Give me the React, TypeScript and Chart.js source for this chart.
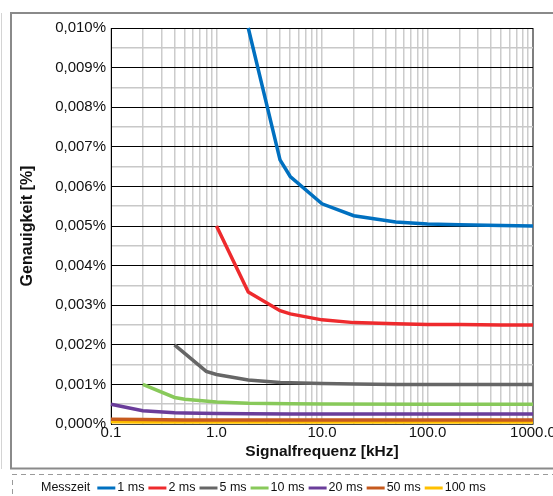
import { useEffect, useRef } from 'react';
import { Chart, registerables } from 'chart.js';

Chart.register(...registerables);

const FONT = "Arial, 'Liberation Sans', sans-serif";

// ---- data (accuracy in %, frequency in kHz) ----
const legendTitle = 'Messzeit';
const seriesLabels = ['1 ms', '2 ms', '5 ms', '10 ms', '20 ms', '50 ms', '100 ms'];
const seriesColors = ['#0070C0', '#EE2A2D', '#666666', '#88C95A', '#6A3D9A', '#C65A1E', '#FFC000'];

const freq1ms = [2, 4, 5, 10, 20, 50, 100, 200, 500, 1000];
const acc1ms = [0.0100, 0.00667, 0.00625, 0.00556, 0.00526, 0.0051, 0.00505, 0.00503, 0.00501, 0.005];

const freq2ms = [1, 2, 4, 5, 10, 20, 50, 100, 200, 500, 1000];
const acc2ms = [0.005, 0.00333, 0.00286, 0.00278, 0.00263, 0.00256, 0.00253, 0.00251, 0.00251, 0.0025, 0.0025];

const freq5ms = [0.4, 0.8, 1, 2, 4, 5, 10, 20, 50, 100, 1000];
const acc5ms = [0.002, 0.00133, 0.00125, 0.00111, 0.00105, 0.00104, 0.00102, 0.00101, 0.001, 0.001, 0.001];

const freq10ms = [0.2, 0.4, 0.5, 1, 2, 5, 10, 100, 1000];
const acc10ms = [0.001, 0.00067, 0.000625, 0.000556, 0.000526, 0.00051, 0.000505, 0.0005, 0.0005];

const freq20ms = [0.1, 0.2, 0.4, 0.5, 1, 2, 5, 10, 100, 1000];
const acc20ms = [0.0005, 0.000333, 0.000286, 0.000278, 0.000263, 0.000256, 0.000252, 0.000251, 0.00025, 0.00025];

const freq50ms = [0.1, 0.2, 0.5, 1, 10, 1000];
const acc50ms = [0.00012, 0.000111, 0.000104, 0.000102, 0.0001, 0.0001];

const freq100ms = [0.1, 0.2, 1, 1000];
const acc100ms = [0.000056, 0.000053, 0.00005, 0.00005];

const seriesFreqs = [freq1ms, freq2ms, freq5ms, freq10ms, freq20ms, freq50ms, freq100ms];
const seriesAccs = [acc1ms, acc2ms, acc5ms, acc10ms, acc20ms, acc50ms, acc100ms];

// ---- axis ticks ----
const xDecades = [0.1, 1, 10, 100, 1000];
const xMinorMultipliers = [2, 3, 4, 5, 6, 7, 8, 9];
const yMin = 0;
const yMax = 0.01;
const yStep = 0.0005;

const isDecade = (v: number) => Math.abs(Math.log10(v) - Math.round(Math.log10(v))) < 1e-6;

const xGridValues: number[] = [];
xDecades.forEach((d, i) => {
  xGridValues.push(d);
  if (i < xDecades.length - 1) xMinorMultipliers.forEach((m) => xGridValues.push(+(d * m).toPrecision(6)));
});

const framePlugin = {
  id: 'frame',
  beforeDraw(chart: any) {
    const ctx = chart.ctx as CanvasRenderingContext2D;
    ctx.save();
    ctx.strokeStyle = '#d4d4d4';
    ctx.lineWidth = 1;
    ctx.beginPath();
    ctx.moveTo(1.5, 13);
    ctx.lineTo(1.5, 469);
    ctx.stroke();
    ctx.strokeStyle = '#8a8a8a';
    ctx.lineWidth = 2;
    ctx.beginPath();
    ctx.moveTo(560, 13);
    ctx.lineTo(11, 13);
    ctx.lineTo(11, 468.5);
    ctx.lineTo(560, 468.5);
    ctx.stroke();
    ctx.strokeStyle = '#9a9a9a';
    ctx.lineWidth = 1;
    ctx.setLineDash([5, 4]);
    ctx.beginPath();
    ctx.moveTo(12, 474.5);
    ctx.lineTo(560, 474.5);
    ctx.moveTo(12.5, 480);
    ctx.lineTo(12.5, 500);
    ctx.stroke();
    ctx.restore();
  },
};

const legendPlugin = {
  id: 'messzeitLegend',
  afterDraw(chart: any) {
    const ctx = chart.ctx as CanvasRenderingContext2D;
    ctx.save();
    ctx.font = `12.5px ${FONT}`;
    ctx.fillStyle = '#111';
    ctx.textBaseline = 'middle';
    ctx.textAlign = 'left';
    const y = 488;
    let x = 41;
    ctx.fillText(legendTitle, x, y);
    x += ctx.measureText(legendTitle).width + 7;
    chart.data.datasets.forEach((ds: any) => {
      ctx.strokeStyle = ds.borderColor;
      ctx.lineWidth = 3;
      ctx.lineCap = 'butt';
      ctx.beginPath();
      ctx.moveTo(x, y);
      ctx.lineTo(x + 18, y);
      ctx.stroke();
      x += 20;
      ctx.fillText(ds.label, x, y);
      x += ctx.measureText(ds.label).width + 4;
    });
    ctx.restore();
  },
};

export default function App() {
  const canvasRef = useRef<HTMLCanvasElement | null>(null);

  useEffect(() => {
    if (!canvasRef.current) return;
    Chart.defaults.font.family = FONT;
    const chart = new Chart(canvasRef.current, {
      type: 'line',
      data: {
        datasets: seriesLabels.map((label, i) => ({
          label,
          data: seriesFreqs[i].map((f, j) => ({ x: f, y: seriesAccs[i][j] })),
          borderColor: seriesColors[i],
          backgroundColor: seriesColors[i],
          borderWidth: 3.5,
          pointRadius: 0,
          pointHoverRadius: 0,
          tension: 0,
          fill: false,
          clip: 4,
        })),
      },
      options: {
        responsive: false,
        animation: false,
        layout: { padding: { left: 12, right: 20, top: 28, bottom: 14 } },
        plugins: {
          legend: { display: false },
          tooltip: { enabled: false },
        },
        scales: {
          x: {
            type: 'logarithmic',
            min: 0.1,
            max: 1000,
            afterBuildTicks: (s: any) => {
              s.ticks = xGridValues.map((v) => ({ value: v, major: isDecade(v) }));
            },
            afterFit: (s: any) => {
              s.height = 58;
              s.paddingLeft = 0;
              s.paddingRight = 0;
            },
            ticks: {
              autoSkip: false,
              maxRotation: 0,
              minRotation: 0,
              padding: 0,
              color: '#111',
              font: { size: 15 },
              callback: (v: any) => (isDecade(Number(v)) ? Number(v).toFixed(1) : ''),
            },
            grid: {
              drawTicks: false,
              color: (c: any) => (c.tick && Math.abs(c.tick.value - 1000) < 1e-6 ? '#7f7f7f' : '#cccccc'),
              lineWidth: (c: any) => (c.tick && Math.abs(c.tick.value - 1000) < 1e-6 ? 2 : 1.5),
            },
            border: { color: '#444', width: 1 },
            title: {
              display: true,
              text: 'Signalfrequenz [kHz]',
              color: '#111',
              font: { size: 15.5, weight: 'bold' },
              padding: { top: 0, bottom: 21 },
            },
          },
          y: {
            type: 'linear',
            min: yMin,
            max: yMax,
            afterFit: (s: any) => {
              s.width = 99;
              s.paddingTop = 0;
              s.paddingBottom = 0;
            },
            ticks: {
              stepSize: yStep,
              maxTicksLimit: 21,
              autoSkip: false,
              padding: 5,
              color: '#111',
              font: { size: 15 },
              callback: (v: any) => {
                const n = Math.round(Number(v) / yStep);
                return n % 2 === 0 ? Number(v).toFixed(3).replace('.', ',') + '%' : '';
              },
            },
            grid: {
              drawTicks: false,
              color: (c: any) => (c.tick && Math.round(c.tick.value / yStep) % 2 === 0 ? '#000000' : '#c8c8c8'),
              lineWidth: (c: any) => (c.tick && Math.round(c.tick.value / yStep) % 2 === 0 ? 1 : 1.5),
            },
            border: { color: '#000', width: 1 },
            title: {
              display: true,
              text: 'Genauigkeit [%]',
              color: '#111',
              font: { size: 16, weight: 'bold' },
              padding: { top: 6, bottom: 0 },
            },
          },
        },
      } as any,
      plugins: [framePlugin, legendPlugin],
    });
    return () => chart.destroy();
  }, []);

  return (
    <div style={{ position: 'fixed', left: 0, top: 0, width: 553, height: 496, background: '#fff' }}>
      <canvas ref={canvasRef} width={553} height={496} style={{ display: 'block' }} />
    </div>
  );
}
